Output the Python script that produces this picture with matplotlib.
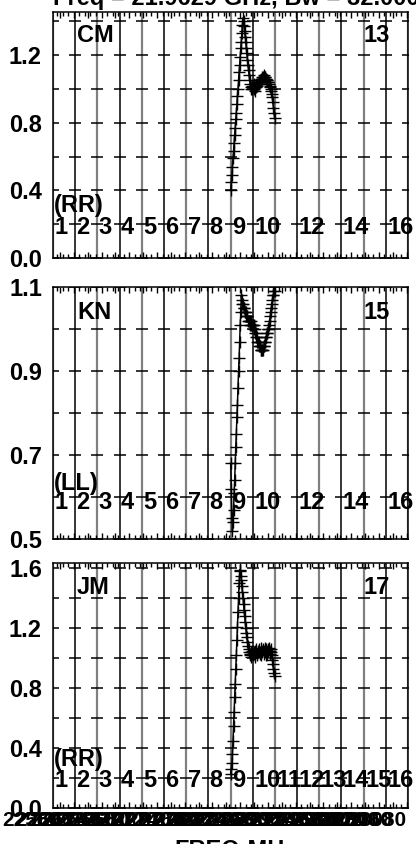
import numpy as np
import matplotlib
matplotlib.use("Agg")
import matplotlib.pyplot as plt
from matplotlib.ticker import MultipleLocator

plt.rcParams['font.family'] = ['Liberation Sans', 'DejaVu Sans']
plt.rcParams['font.weight'] = 'bold'

# ---- data -------------------------------------------------------------
title = "Freq = 21.9629 GHz, Bw = 32.000 MHz"
if_numbers = list(range(1, 17))
if_start_mhz = [22570, 22602, 22634, 22666, 22698, 22730, 22762, 22794,
                22826, 22858, 22890, 22922, 22954, 22986, 23018, 23050]
if_width_mhz = 32.0
chan_width_mhz = 0.8
n_chan = 40
data_ifs = [9, 10]

stations = ["CM", "KN", "JM"]
antenna_ids = ["13", "15", "17"]
polarisations = ["(RR)", "(LL)", "(RR)"]

amp_cm = [0.40, 0.45, 0.49, 0.54, 0.59, 0.63, 0.68, 0.73, 0.77, 0.82,
          0.86, 0.91, 0.96, 1.00, 1.05, 1.10, 1.14, 1.19, 1.24, 1.28,
          1.33, 1.38, 1.42, 1.40, 1.37, 1.34, 1.31, 1.28, 1.24, 1.21,
          1.17, 1.14, 1.11, 1.08, 1.05, 1.03, 1.01, 1.00, 1.02, 1.00,
          1.01, 1.03, 1.00, 0.99, 1.01, 1.02, 1.01, 1.03, 1.02, 1.03,
          1.03, 1.04, 1.04, 1.05, 1.05, 1.06, 1.06, 1.07, 1.07, 1.08,
          1.07, 1.07, 1.07, 1.06, 1.06, 1.05, 1.05, 1.04, 1.04, 1.03,
          1.02, 1.01, 1.00, 0.99, 0.97, 0.95, 0.92, 0.89, 0.86, 0.83]

amp_kn = [0.68, 0.62, 0.55, 0.52, 0.54, 0.57, 0.61, 0.64, 0.68, 0.72,
          0.75, 0.79, 0.82, 0.86, 0.90, 0.93, 0.97, 1.01, 1.04, 1.08,
          1.07, 1.06, 1.06, 1.05, 1.05, 1.04, 1.04, 1.04, 1.03, 1.03,
          1.03, 1.02, 1.02, 1.02, 1.02, 1.01, 1.01, 1.02, 1.01, 1.01,
          1.01, 1.01, 1.00, 1.00, 0.99, 0.99, 0.98, 0.98, 0.97, 0.97,
          0.97, 0.96, 0.96, 0.96, 0.95, 0.95, 0.95, 0.95, 0.95, 0.96,
          0.96, 0.97, 0.97, 0.98, 0.98, 0.99, 0.99, 1.00, 1.00, 1.01,
          1.02, 1.03, 1.04, 1.05, 1.06, 1.07, 1.08, 1.08, 1.09, 1.09]

amp_jm = [0.23, 0.26, 0.30, 0.36, 0.45, 0.55, 0.64, 0.74, 0.83, 0.93,
          1.02, 1.12, 1.21, 1.31, 1.40, 1.50, 1.59, 1.58, 1.55, 1.52,
          1.48, 1.44, 1.40, 1.36, 1.32, 1.28, 1.24, 1.20, 1.17, 1.14,
          1.11, 1.08, 1.06, 1.04, 1.03, 1.02, 1.04, 1.01, 1.03, 1.05,
          1.02, 1.04, 1.03, 1.05, 1.01, 1.04, 1.06, 1.03, 1.02, 1.05,
          1.04, 1.06, 1.03, 1.04, 1.07, 1.02, 1.05, 1.04, 1.06, 1.03,
          1.05, 1.07, 1.04, 1.02, 1.06, 1.05, 1.03, 1.06, 1.04, 1.07,
          1.05, 1.03, 1.06, 1.04, 1.02, 0.99, 0.96, 0.93, 0.90, 0.88]

amplitudes = [amp_cm, amp_kn, amp_jm]

freq_ticks = list(range(22580, 23081, 20))
# ---- layout / style ---------------------------------------------------
y_limits = [(0.0, 1.455), (0.5, 1.1), (0.0, 1.635)]
y_labels_step = [0.4, 0.2, 0.4]
y_cross_step = [0.2, 0.1, 0.2]
num_label_shown = [[1, 2, 3, 4, 5, 6, 7, 8, 9, 10, 12, 14, 16],
                   [1, 2, 3, 4, 5, 6, 7, 8, 9, 10, 12, 14, 16],
                   if_numbers]
num_row_y = [0.122, 0.143, 0.112]
pol_row_y = [0.215, 0.222, 0.198]
name_row_y = [0.905, 0.900, 0.898]

W, H = 416, 844
fig = plt.figure(figsize=(W / 100, H / 100), dpi=100)
left_px, right_px = 53, 408
panels_px = [(12, 258), (287, 539), (563, 808)]

f_lo = if_start_mhz[0]
f_hi = if_start_mhz[-1] + if_width_mhz
boundaries = if_start_mhz + [f_hi]

chan_freqs = [if_start_mhz[k - 1] + (j + 0.5) * chan_width_mhz
              for k in data_ifs for j in range(n_chan)]

TXT = 17

for p, (top_px, bot_px) in enumerate(panels_px):
    ax = fig.add_axes([left_px / W, 1 - bot_px / H,
                       (right_px - left_px) / W, (bot_px - top_px) / H])
    ax.set_xlim(f_lo, f_hi)
    ax.set_ylim(*y_limits[p])
    ylo, yhi = y_limits[p]

    # IF boundary lines, alternating grey / black
    for k, b in enumerate(boundaries):
        if k % 2 == 0:
            ax.axvline(b, color='#808080', lw=1.6, zorder=1)
        else:
            ax.axvline(b, color='black', lw=1.1, zorder=1)

    # short horizontal cross marks on each boundary line
    step = y_cross_step[p]
    cross_vals = np.arange(np.ceil(ylo / step - 1e-6) * step, yhi + 1e-6, step)
    for yv in cross_vals:
        ax.plot(boundaries, [yv] * len(boundaries), ls='none', marker='_',
                ms=8, mew=1.1, color='black', zorder=2)

    # spectrum
    ax.plot(chan_freqs, amplitudes[p], color='black', lw=1.1, marker='+',
            ms=8, mew=1.0, zorder=3)

    # y axis
    lstep = y_labels_step[p]
    yt = np.arange(ylo, yhi + 1e-6, lstep)
    ax.set_yticks(yt)
    ax.set_yticklabels([f"{v:.1f}" for v in yt])
    ax.tick_params(axis='y', length=0, pad=8, labelsize=TXT)

    # x axis
    ax.set_xticks(freq_ticks)
    ax.xaxis.set_minor_locator(MultipleLocator(8))
    ax.tick_params(axis='x', which='major', direction='in', length=4,
                   width=1, top=True, bottom=True, pad=2, labelsize=15)
    ax.tick_params(axis='x', which='minor', direction='in', length=3,
                   width=1, top=True, bottom=True)
    if p < 2:
        ax.set_xticklabels([])
    else:
        ax.set_xticklabels([str(t) for t in freq_ticks])
        for lab in ax.get_xticklabels():
            lab.set_horizontalalignment('right')

    for sp in ax.spines.values():
        sp.set_color('black')
        sp.set_linewidth(1.1)

    # annotations
    ax.text(0.068, name_row_y[p], stations[p], transform=ax.transAxes,
            fontsize=TXT, fontweight='bold', va='center', ha='left')
    ax.text(0.876, name_row_y[p], antenna_ids[p], transform=ax.transAxes,
            fontsize=TXT, fontweight='bold', va='center', ha='left')
    ax.text(0.002, pol_row_y[p], polarisations[p], transform=ax.transAxes,
            fontsize=TXT, fontweight='bold', va='center', ha='left')
    for n in num_label_shown[p]:
        ax.text(if_start_mhz[n - 1] + 2.0, ylo + num_row_y[p] * (yhi - ylo),
                str(n), fontsize=TXT, fontweight='bold', va='center', ha='left')

fig.text(left_px / W, 1 - 5 / H, title, fontsize=17, fontweight='bold',
         ha='left', va='baseline')
fig.text(235 / W, 1 - 839 / H, "FREQ-MHz", fontsize=17, fontweight='bold',
         ha='center', va='top')

fig.savefig("out.png", dpi=100)
